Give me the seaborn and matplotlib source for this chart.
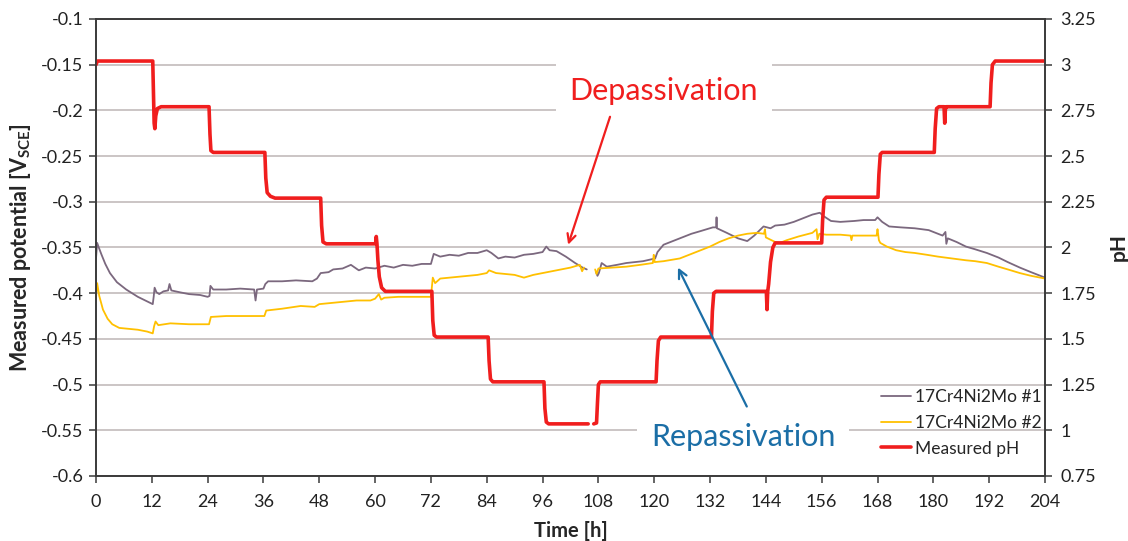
import numpy as np
import pandas as pd
import matplotlib
matplotlib.use("Agg")
import matplotlib.pyplot as plt
from matplotlib.lines import Line2D
import seaborn as sns

NAN = float("nan")

# Open-circuit potential of specimen #1, (time [h], potential [V_SCE])
potential_1 = [
    (0, -0.362), (0.25, -0.345), (0.6, -0.350), (1.2, -0.358), (2, -0.368),
    (3, -0.378), (4.5, -0.388), (6.5, -0.396), (9, -0.404), (11, -0.409),
    (12.2, -0.412), (12.4, -0.404), (12.6, -0.394), (13, -0.399), (13.6, -0.401),
    (14.5, -0.398), (15.5, -0.397), (15.8, -0.390), (16.2, -0.397), (18, -0.399),
    (20, -0.401), (22.4, -0.402), (24, -0.404), (24.4, -0.403), (24.6, -0.392),
    (25.2, -0.396), (28, -0.396), (31, -0.395), (34, -0.396), (34.3, -0.408),
    (34.6, -0.396), (36, -0.395), (36.4, -0.390), (37, -0.387), (40, -0.387),
    (43, -0.386), (46.5, -0.387), (47.5, -0.384), (48.3, -0.378), (50, -0.377),
    (51, -0.374), (53, -0.373), (54.8, -0.369), (56.5, -0.375), (58, -0.372),
    (60, -0.373), (62, -0.370), (64, -0.372), (66, -0.369), (68, -0.370),
    (70, -0.368), (72, -0.368), (72.6, -0.357), (74, -0.360), (76, -0.358),
    (78, -0.359), (80, -0.356), (82, -0.356), (84, -0.353), (85, -0.356),
    (86.5, -0.362), (88, -0.360), (90, -0.361), (92, -0.358), (94, -0.357),
    (96, -0.355), (96.8, -0.349), (97.5, -0.353), (99, -0.354), (101, -0.360),
    (103, -0.367), (104.6, -0.372), (105.5, -0.374), (NAN, NAN),
    (107.5, -0.377), (107.8, -0.381), (108.1, -0.378), (108.7, -0.367),
    (109.8, -0.371), (112, -0.369), (114, -0.367), (117.6, -0.365),
    (120.2, -0.362), (120.7, -0.355), (122, -0.347), (125.5, -0.340),
    (128, -0.335), (130, -0.332), (132.6, -0.328), (133.3, -0.328),
    (133.4, -0.317), (133.5, -0.329), (135.6, -0.334), (138, -0.340),
    (140, -0.343), (141.5, -0.337), (143.5, -0.327), (145, -0.329),
    (146, -0.326), (148, -0.325), (150, -0.322), (152, -0.318), (154, -0.314),
    (155.6, -0.312), (156.5, -0.316), (158, -0.321), (160, -0.322),
    (163, -0.321), (165, -0.320), (167.5, -0.320), (168, -0.317),
    (169, -0.322), (170.5, -0.327), (173, -0.328), (176, -0.329),
    (179, -0.331), (180, -0.333), (182, -0.337), (182.6, -0.333),
    (182.8, -0.346), (183.1, -0.340), (185, -0.344), (187, -0.349),
    (189, -0.352), (191.5, -0.356), (194, -0.361), (196, -0.366),
    (198.6, -0.372), (201, -0.377), (204, -0.383),
]

# Open-circuit potential of specimen #2, (time [h], potential [V_SCE])
potential_2 = [
    (0, -0.405), (0.25, -0.389), (0.7, -0.403), (1.5, -0.418), (2.5, -0.428),
    (3.5, -0.434), (5, -0.438), (7, -0.439), (9, -0.440), (11, -0.442),
    (12.2, -0.444), (12.5, -0.436), (12.8, -0.431), (13.4, -0.435), (16, -0.433),
    (20, -0.434), (24.3, -0.434), (24.7, -0.426), (28, -0.425), (32, -0.425),
    (36.2, -0.425), (36.6, -0.419), (40, -0.417), (44, -0.414), (47, -0.415),
    (48, -0.412), (52, -0.410), (56, -0.408), (59, -0.408), (60, -0.406),
    (60.8, -0.401), (61.3, -0.407), (62, -0.405), (65, -0.404), (68, -0.404),
    (72, -0.404), (72.4, -0.383), (72.9, -0.389), (74, -0.384), (78, -0.382),
    (82, -0.380), (84, -0.378), (84.5, -0.375), (86, -0.378), (90, -0.380),
    (92, -0.383), (94, -0.380), (97, -0.377), (100, -0.374), (102, -0.372),
    (104, -0.369), (104.5, -0.376), (104.9, -0.372), (NAN, NAN),
    (107.3, -0.374), (107.6, -0.379), (108, -0.373), (111, -0.372),
    (114, -0.371), (117, -0.369), (119.7, -0.367), (119.9, -0.358),
    (120.1, -0.366), (122, -0.365), (125.5, -0.362), (128, -0.357),
    (130, -0.353), (132, -0.349), (134, -0.344), (136, -0.340), (138, -0.337),
    (140, -0.335), (142, -0.334), (143.6, -0.335), (143.8, -0.330),
    (144, -0.339), (146, -0.344), (147, -0.345), (148.5, -0.342),
    (151, -0.338), (154, -0.334), (154.9, -0.330), (155.1, -0.341),
    (155.5, -0.335), (157, -0.336), (160, -0.336), (162.2, -0.337),
    (162.4, -0.342), (162.6, -0.337), (165, -0.337), (167.8, -0.337),
    (168, -0.330), (168.3, -0.342), (168.6, -0.345), (170, -0.349),
    (172, -0.353), (174, -0.355), (176, -0.356), (178.6, -0.358),
    (181, -0.360), (184, -0.362), (187, -0.364), (189, -0.365),
    (191.5, -0.367), (194, -0.371), (196, -0.374), (198.6, -0.378),
    (201, -0.381), (204, -0.384),
]

# Measured pH of the electrolyte, (time [h], pH)
measured_ph = [
    (0, 3.00), (0.3, 3.02), (12.2, 3.02), (12.35, 2.85), (12.5, 2.68),
    (12.65, 2.65), (12.85, 2.72), (13.2, 2.76), (14, 2.77), (24.3, 2.77),
    (24.5, 2.62), (24.7, 2.53), (25.2, 2.52), (36.3, 2.52), (36.5, 2.38),
    (36.8, 2.30), (37.5, 2.28), (38.5, 2.27), (48.3, 2.27), (48.5, 2.12),
    (48.8, 2.03), (49.5, 2.02), (60.1, 2.02), (60.25, 2.06), (60.4, 2.02),
    (60.6, 1.93), (60.9, 1.84), (61.4, 1.78), (62.2, 1.76), (72.2, 1.76),
    (72.4, 1.60), (72.7, 1.52), (73.2, 1.51), (84.3, 1.51), (84.5, 1.38),
    (84.8, 1.28), (85.3, 1.265), (96.3, 1.265), (96.5, 1.12), (96.8, 1.045),
    (97.3, 1.035), (105.8, 1.035), (NAN, NAN), (107.0, 1.035), (107.6, 1.04),
    (107.8, 1.15), (108.0, 1.25), (108.4, 1.265), (120.4, 1.265),
    (120.6, 1.38), (120.9, 1.49), (121.4, 1.51), (132.3, 1.51), (132.5, 1.65),
    (132.8, 1.75), (133.3, 1.76), (144.1, 1.76), (144.25, 1.66),
    (144.4, 1.76), (144.6, 1.80), (145.0, 1.92), (145.5, 2.00), (146.0, 2.025),
    (156.0, 2.025), (156.2, 2.15), (156.5, 2.26), (157.0, 2.275),
    (168.1, 2.275), (168.3, 2.40), (168.6, 2.51), (169.0, 2.52), (180.2, 2.52),
    (180.4, 2.65), (180.7, 2.76), (181.2, 2.77), (182.3, 2.77), (182.45, 2.68),
    (182.6, 2.76), (182.8, 2.77), (192.2, 2.77), (192.4, 2.90), (192.7, 3.00),
    (193.3, 3.02), (204, 3.02),
]

series_labels = ["17Cr4Ni2Mo #1", "17Cr4Ni2Mo #2", "Measured pH"]
x_ticks = list(range(0, 205, 12))
potential_ticks = [-0.6, -0.55, -0.5, -0.45, -0.4, -0.35, -0.3, -0.25, -0.2, -0.15, -0.1]
ph_ticks = [0.75, 1.0, 1.25, 1.5, 1.75, 2.0, 2.25, 2.5, 2.75, 3.0, 3.25]

C_PURPLE = "#7B687E"
C_YELLOW = "#FFC000"
C_RED = "#F01E1E"
C_BLUE = "#1B6EA6"
C_GRID = "#BDB5B5"
C_AXIS = "#3A3A3A"


def to_frame(points):
    """Split a (t, value) list into contiguous segments at NaN gaps."""
    df = pd.DataFrame(points, columns=["t", "v"])
    df["seg"] = df["v"].isna().cumsum()
    return df.dropna()


sns.set_style("white")
plt.rcParams["font.family"] = ["Lato", "DejaVu Sans"]
plt.rcParams["mathtext.default"] = "regular"

fig = plt.figure(figsize=(11.28, 5.41), dpi=100)
ax = fig.add_axes([0.0851, 0.1202, 0.8413, 0.8447])
ax2 = ax.twinx()

for pts, color in ((potential_1, C_PURPLE), (potential_2, C_YELLOW)):
    sns.lineplot(data=to_frame(pts), x="t", y="v", units="seg", estimator=None,
                 sort=False, color=color, linewidth=1.3, ax=ax, legend=False)

sns.lineplot(data=to_frame(measured_ph), x="t", y="v", units="seg", estimator=None,
             sort=False, color=C_RED, linewidth=2.6, ax=ax2, legend=False)

# axes limits and ticks
ax.set_xlim(0, 204)
ax.set_ylim(-0.6, -0.1)
ax2.set_ylim(0.75, 3.25)
ax.set_xticks(x_ticks)
ax.set_xticklabels([str(v) for v in x_ticks])
ax.set_yticks(potential_ticks)
ax.set_yticklabels([f"{v:g}" for v in potential_ticks])
ax2.set_yticks(ph_ticks)
ax2.set_yticklabels([f"{v:g}" for v in ph_ticks])

ax.grid(axis="y", color=C_GRID, linewidth=1.1)
ax.grid(axis="x", visible=False)
ax2.grid(False)
ax.set_axisbelow(True)

for a in (ax, ax2):
    for sp in a.spines.values():
        sp.set_color(C_AXIS)
        sp.set_linewidth(1.2)
ax.tick_params(axis="both", which="major", direction="out", length=5, width=1.1,
               color=C_AXIS, labelsize=13, labelcolor="#222222",
               left=True, bottom=True, pad=4)
ax.tick_params(axis="x", pad=8)
ax2.tick_params(axis="y", direction="out", length=5, width=1.1, color=C_AXIS,
                labelsize=13, labelcolor="#222222", right=True, pad=6)

ax.set_xlabel("Time [h]", fontsize=14.5, fontweight="bold", labelpad=8)
ax.set_ylabel("Measured potential [V$_{SCE}$]", fontsize=15.5, fontweight="bold",
              labelpad=6)
ax2.set_ylabel("pH", fontsize=15, fontweight="bold", labelpad=9, rotation=90)

# annotations
text_box = dict(boxstyle="square,pad=0.45", facecolor="white", edgecolor="none")
ax2.text(122.1, -0.179, "Depassivation", transform=ax.transData, color=C_RED,
         fontsize=22, ha="center", va="center", bbox=text_box, zorder=5)
ax2.text(139.1, -0.557, "Repassivation", transform=ax.transData, color=C_BLUE,
         fontsize=22, ha="center", va="center", bbox=text_box, zorder=5)
ax2.annotate("", xy=(101.5, -0.347), xycoords=ax.transData,
             xytext=(110.5, -0.207), textcoords=ax.transData,
             arrowprops=dict(arrowstyle="->,head_length=0.6,head_width=0.3",
                             color=C_RED, lw=1.6, shrinkA=0, shrinkB=0), zorder=6)
ax2.annotate("", xy=(125.1, -0.372), xycoords=ax.transData,
             xytext=(139.9, -0.524), textcoords=ax.transData,
             arrowprops=dict(arrowstyle="->,head_length=0.6,head_width=0.3",
                             color=C_BLUE, lw=1.6, shrinkA=0, shrinkB=0), zorder=6)

handles = [Line2D([], [], color=C_PURPLE, lw=1.3),
           Line2D([], [], color=C_YELLOW, lw=1.3),
           Line2D([], [], color=C_RED, lw=2.6)]
leg = ax2.legend(handles, series_labels, loc="lower right",
                 bbox_to_anchor=(1.0, 0.035), frameon=False, fontsize=12.5,
                 handlelength=1.7, handletextpad=0.25, labelspacing=0.55,
                 borderaxespad=0.0, borderpad=0.2)
leg.set_zorder(7)

fig.savefig("out.png", dpi=100)
